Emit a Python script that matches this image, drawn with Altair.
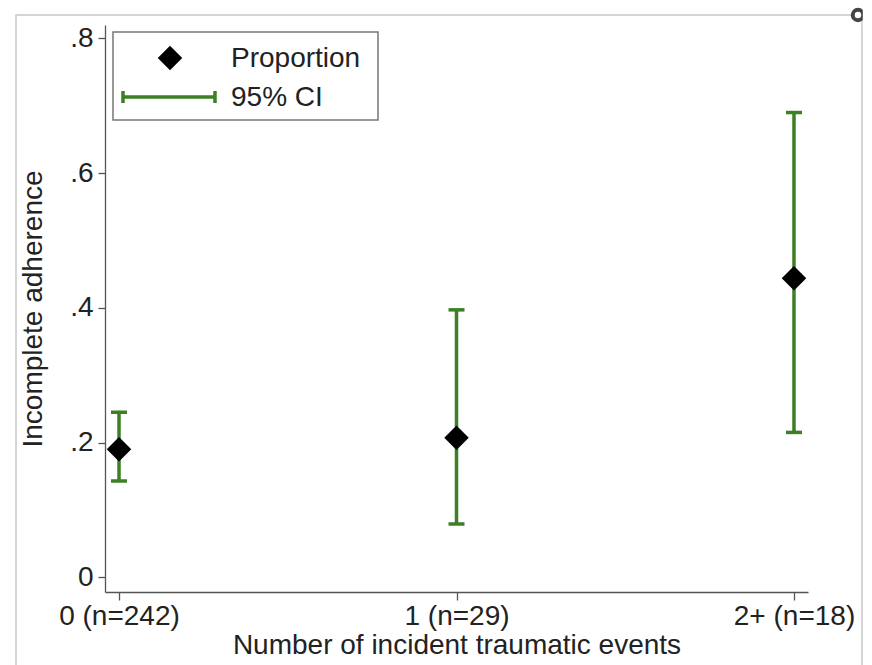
import altair as alt
import pandas as pd

# ---- data ----
categories = ["0 (n=242)", "1 (n=29)", "2+ (n=18)"]
proportion = [0.190, 0.207, 0.444]
ci_low = [0.143, 0.079, 0.215]
ci_high = [0.245, 0.397, 0.690]
y_ticks = [0, 0.2, 0.4, 0.6, 0.8]
legend_labels = ["Proportion", "95% CI"]

df = pd.DataFrame({"cat": categories, "p": proportion, "lo": ci_low, "hi": ci_high})
one = pd.DataFrame({"k": [0]})

GREEN = "#3d7f24"
FONT = "Liberation Sans"
AXIS_COL = "#555555"
TEXT_COL = "#222222"
FS = 28

x_enc = alt.X(
    "cat:N",
    sort=categories,
    scale=alt.Scale(type="point", padding=0.0415),
    axis=alt.Axis(
        title="Number of incident traumatic events",
        labelAngle=0,
        tickSize=8,
        labelPadding=2,
        titlePadding=1,
    ),
)
y_scale = alt.Scale(domain=[-0.022, 0.82], nice=False, zero=False)
y_axis = alt.Axis(
    title="Incomplete adherence",
    values=y_ticks,
    labelExpr="datum.value == 0 ? '0' : replace(format(datum.value, '.1f'), '0.', '.')",
    tickSize=7,
    labelPadding=5,
    titlePadding=22,
)

# outer light frame
frame = alt.Chart(one).mark_rect(fill="white", fillOpacity=0, stroke="#c8c8c8", strokeWidth=1.5).encode(
    x=alt.value(-89), x2=alt.value(757), y=alt.value(-10), y2=alt.value(662)
)
corner = alt.Chart(one).mark_point(shape="circle", size=110, stroke="#444444", strokeWidth=4, fill="white", filled=False, opacity=1).encode(
    x=alt.value(753), y=alt.value(-10)
)
corner_cut = alt.Chart(one).mark_rect(fill="white", stroke="transparent").encode(
    x=alt.value(757.8), x2=alt.value(767), y=alt.value(-25), y2=alt.value(2)
)

rules = alt.Chart(df).mark_rule(color=GREEN, strokeWidth=3.5).encode(
    x=x_enc,
    y=alt.Y("lo:Q", scale=y_scale, axis=y_axis),
    y2="hi:Q",
)
caps_lo = alt.Chart(df).mark_tick(orient="horizontal", size=16, thickness=3.5, color=GREEN, opacity=1).encode(
    x=x_enc, y=alt.Y("lo:Q", scale=y_scale)
)
caps_hi = alt.Chart(df).mark_tick(orient="horizontal", size=16, thickness=3.5, color=GREEN, opacity=1).encode(
    x=x_enc, y=alt.Y("hi:Q", scale=y_scale)
)
points = alt.Chart(df).mark_point(shape="diamond", filled=True, size=600, color="black", opacity=1).encode(
    x=x_enc, y=alt.Y("p:Q", scale=y_scale)
)

# manual legend
leg_box = alt.Chart(one).mark_rect(fill="white", stroke="#777777", strokeWidth=1.5).encode(
    x=alt.value(8), x2=alt.value(273), y=alt.value(7), y2=alt.value(95)
)
leg_diamond = alt.Chart(one).mark_point(shape="diamond", filled=True, size=600, color="black", opacity=1).encode(
    x=alt.value(65), y=alt.value(33)
)
leg_line = alt.Chart(one).mark_rule(color=GREEN, strokeWidth=3.5).encode(
    x=alt.value(18), x2=alt.value(110), y=alt.value(72)
)
leg_cap1 = alt.Chart(one).mark_rule(color=GREEN, strokeWidth=3.5).encode(
    x=alt.value(18), y=alt.value(66), y2=alt.value(78)
)
leg_cap2 = alt.Chart(one).mark_rule(color=GREEN, strokeWidth=3.5).encode(
    x=alt.value(110), y=alt.value(66), y2=alt.value(78)
)
leg_t1 = alt.Chart(one).mark_text(align="left", baseline="middle", font=FONT, fontSize=FS, color=TEXT_COL).encode(
    x=alt.value(126), y=alt.value(34), text=alt.value(legend_labels[0])
)
leg_t2 = alt.Chart(one).mark_text(align="left", baseline="middle", font=FONT, fontSize=FS, color=TEXT_COL).encode(
    x=alt.value(126), y=alt.value(73), text=alt.value(legend_labels[1])
)

chart = alt.layer(
    frame, corner, corner_cut, rules, caps_lo, caps_hi, points,
    leg_box, leg_diamond, leg_line, leg_cap1, leg_cap2, leg_t1, leg_t2,
).properties(
    width=703,
    height=567,
    autosize=alt.AutoSizeParams(type="none"),
    padding={"left": 105, "top": 25, "right": 64, "bottom": 73},
    background="white",
).configure_view(
    stroke="transparent"
).configure_axis(
    grid=False,
    domainColor=AXIS_COL,
    domainWidth=1.3,
    tickColor=AXIS_COL,
    tickWidth=1.3,
    labelFont=FONT,
    titleFont=FONT,
    labelFontSize=FS,
    titleFontSize=FS,
    titleFontWeight="normal",
    labelColor=TEXT_COL,
    titleColor=TEXT_COL,
)

chart.save("out.html", embed_options={"renderer": "svg", "actions": False})
